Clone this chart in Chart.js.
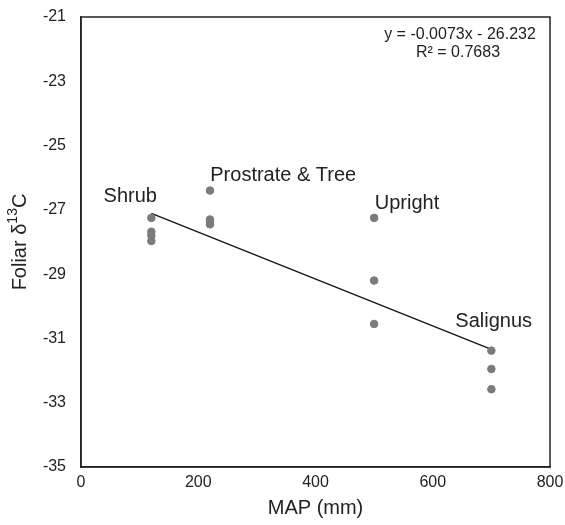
<!DOCTYPE html>
<html lang="en">
<head>
  <meta charset="UTF-8">
  <title>Foliar d13C vs MAP</title>
  <script src="https://cdn.jsdelivr.net/npm/chart.js"></script>
  <style>
    html, body { margin: 0; padding: 0; background: #fff; }
    #wrap { width: 565px; height: 525px; }
  </style>
</head>
<body>
  <div id="wrap"><canvas id="d13cChart" width="565" height="525"></canvas></div>
  <script>
    // point values
    const mapMm = [120, 120, 120, 120, 220, 220, 220, 220, 500, 500, 500, 700, 700, 700];
    const foliarD13C = [-27.25, -27.68, -27.8, -27.97, -26.4, -27.3, -27.38, -27.45, -27.25, -29.2, -30.55, -31.38, -31.95, -32.58];

    // regression from the equation printed on the figure
    const slope = -0.0073;
    const intercept = -26.232;
    const fitRange = [120, 700];

    // group labels and where they sit (data units)
    const groupNames = ['Shrub', 'Prostrate & Tree', 'Upright', 'Salignus'];
    const groupLabelX = [84, 345, 556, 704];
    const groupLabelY = [-26.57, -25.92, -26.79, -30.46];

    const eqLines = ['y = -0.0073x - 26.232', 'R\u00b2 = 0.7683'];

    const xTicks = [0, 200, 400, 600, 800];
    const yTicks = [-21, -23, -25, -27, -29, -31, -33, -35];

    const ink = '#222';
    const font = 'Liberation Sans, Arial, sans-serif';

    const points = mapMm.map((x, i) => ({ x: x, y: foliarD13C[i] }));
    const fitLine = fitRange.map(x => ({ x: x, y: slope * x + intercept }));

    // frame, annotation texts and axis titles
    const decorations = {
      id: 'decorations',
      afterDraw(chart) {
        const ctx = chart.ctx;
        const a = chart.chartArea;
        const xs = chart.scales.x, ys = chart.scales.y;
        ctx.save();
        ctx.strokeStyle = ink;
        ctx.lineWidth = 1.5;
        ctx.strokeRect(a.left, a.top, a.right - a.left, a.bottom - a.top);

        ctx.fillStyle = ink;
        ctx.textAlign = 'center';
        ctx.textBaseline = 'middle';
        ctx.font = '20px ' + font;
        groupNames.forEach((name, i) => {
          ctx.fillText(name, xs.getPixelForValue(groupLabelX[i]), ys.getPixelForValue(groupLabelY[i]));
        });

        ctx.font = '16px ' + font;
        ctx.fillText(eqLines[0], a.right - 90, a.top + 18);
        ctx.fillText(eqLines[1], a.right - 92, a.top + 36);

        // x title
        ctx.font = '20px ' + font;
        ctx.fillText('MAP (mm)', (a.left + a.right) / 2, 508);

        // y title with superscript
        ctx.translate(20, (a.top + a.bottom) / 2);
        ctx.rotate(-Math.PI / 2);
        const p1 = 'Foliar \u03b4', sup = '13', p2 = 'C';
        ctx.font = '20px ' + font;
        const w1 = ctx.measureText(p1).width, w3 = ctx.measureText(p2).width;
        ctx.font = '14px ' + font;
        const w2 = ctx.measureText(sup).width;
        let x0 = -(w1 + w2 + w3) / 2;
        ctx.textAlign = 'left';
        ctx.font = '20px ' + font;
        ctx.fillText(p1, x0, 0);
        ctx.font = '14px ' + font;
        ctx.fillText(sup, x0 + w1, -7);
        ctx.font = '20px ' + font;
        ctx.fillText(p2, x0 + w1 + w2, 0);
        ctx.restore();
      }
    };

    new Chart(document.getElementById('d13cChart'), {
      type: 'scatter',
      data: {
        datasets: [{
          label: 'samples',
          data: points,
          backgroundColor: '#7b7b7b',
          borderColor: '#7b7b7b',
          pointRadius: 3.8,
          pointHoverRadius: 3.8
        }, {
          label: 'fit',
          type: 'line',
          data: fitLine,
          borderColor: '#111',
          borderWidth: 1.2,
          pointRadius: 0,
          fill: false
        }]
      },
      options: {
        responsive: false,
        animation: false,
        layout: { padding: { top: 17, right: 15, left: 0, bottom: 0 } },
        plugins: {
          legend: { display: false },
          tooltip: { enabled: false }
        },
        scales: {
          x: {
            type: 'linear',
            min: 0,
            max: 800,
            afterBuildTicks: s => { s.ticks = xTicks.map(v => ({ value: v })); },
            afterFit: s => { s.height = 58; },
            grid: { display: false, drawTicks: true, tickLength: 6, tickColor: ink },
            border: { display: true, color: ink, width: 1.5 },
            ticks: { color: ink, font: { family: font, size: 16 }, padding: 0, maxRotation: 0 }
          },
          y: {
            type: 'linear',
            min: -35,
            max: -21,
            afterBuildTicks: s => { s.ticks = yTicks.map(v => ({ value: v })); },
            afterFit: s => { s.width = 81; },
            grid: { display: false, drawTicks: true, tickLength: 9, tickColor: ink },
            border: { display: true, color: ink, width: 1.5 },
            ticks: { color: ink, font: { family: font, size: 16 }, padding: 6 }
          }
        }
      },
      plugins: [decorations]
    });
  </script>
</body>
</html>
